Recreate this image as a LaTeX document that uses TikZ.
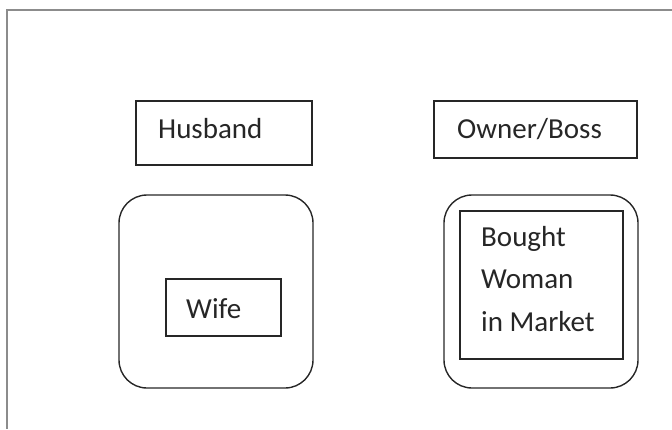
\documentclass[tikz,border=0pt]{standalone}
\usepackage{fontspec}
\setmainfont{Carlito}
\definecolor{framegray}{HTML}{8C8C8C}
\definecolor{ink}{HTML}{262626}
\tikzset{
  box/.style={draw=ink, line width=1.4pt, rectangle, inner sep=0pt},
  roundbox/.style={draw=ink, line width=1.4pt, rectangle, rounded corners=28pt, inner sep=0pt},
  lbl/.style={anchor=base west, inner sep=0pt, text=ink, font=\fontsize{29}{42.5}\selectfont, align=left},
}
\begin{document}
\begin{tikzpicture}[x=1pt,y=-1pt]
\useasboundingbox (0,0) rectangle (672,429);
% outer frame
\coordinate (ftr) at (672,10);
\coordinate (ftl) at (7,10);
\coordinate (fbl) at (7,429);
\draw[framegray, line width=2pt] (ftr) -- (ftl) -- (fbl);
% Husband
\node[box, minimum width=176pt, minimum height=64pt] (hus) at (224,133) {};
\node[lbl] (husl) at (158,138) {Husband};
% Left rounded
\node[roundbox, minimum width=194pt, minimum height=193pt] (lr) at (216,291.5) {};
\node[box, minimum width=115pt, minimum height=57pt] (wife) at (223.5,307.5) {};
\node[lbl] (wifel) at (186,318) {Wife};
% Owner/Boss
\node[box, minimum width=203pt, minimum height=57pt] (own) at (535.5,129.5) {};
\node[lbl] (ownl) at (457,138) {Owner/Boss};
% Right rounded
\node[roundbox, minimum width=194pt, minimum height=193pt] (rr) at (541,291.5) {};
\node[box, minimum width=163pt, minimum height=148pt] (bw) at (541.5,285) {};
\node[lbl] (bwl) at (481,331) {Bought\\Woman\\in Market};
\end{tikzpicture}
\end{document}
